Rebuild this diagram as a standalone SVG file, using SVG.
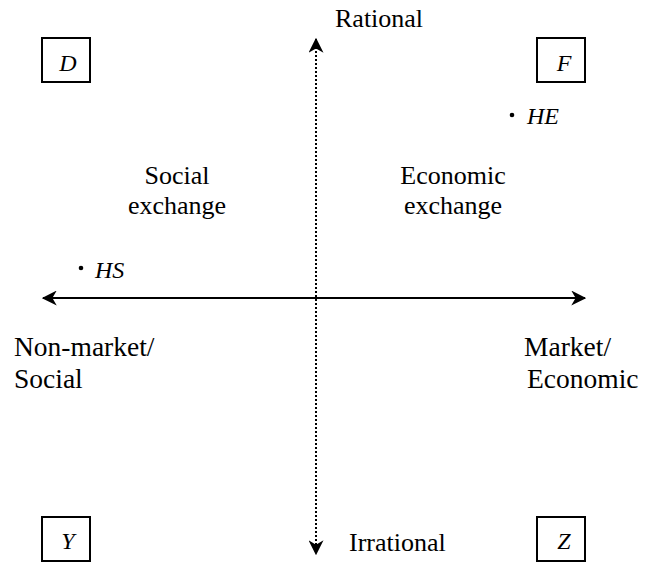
<svg xmlns="http://www.w3.org/2000/svg" width="652" height="563" viewBox="0 0 652 563">
  <style>
    text { font-family: 'Liberation Serif', 'DejaVu Serif', serif; fill: #000; }
    .lbl { font-size: 26px; }
    .side { font-size: 27.5px; }
    .var { font-size: 24px; font-style: italic; }
    .box { fill: #fff; stroke: #000; stroke-width: 2; }
    .axis { stroke: #000; stroke-width: 2; fill: none; }
    .dotted { stroke: #000; stroke-width: 2; stroke-dasharray: 2 2; fill: none; }
  </style>
  <defs>
    <marker id="head" viewBox="0 0 12 12" refX="11" refY="6" markerWidth="7.5" markerHeight="7.5" markerUnits="strokeWidth" orient="auto-start-reverse">
      <path d="M0,0 L12,6 L0,12 L3.5,6 Z" fill="#000"/>
    </marker>
  </defs>

  <!-- axes -->
  <g id="connectors">
    <line class="axis" x1="43" y1="298" x2="585" y2="298" marker-start="url(#head)" marker-end="url(#head)"/>
    <line class="dotted" x1="316" y1="39" x2="316" y2="554" marker-start="url(#head)" marker-end="url(#head)"/>
  </g>

  <!-- axis pole labels -->
  <g id="rational"><text class="lbl" x="335" y="27">Rational</text></g>
  <g id="irrational"><text class="lbl" x="349" y="551">Irrational</text></g>
  <g id="nonmarket">
    <text class="side" x="14" y="356">Non-market/</text>
    <text class="side" x="14" y="388">Social</text>
  </g>
  <g id="market">
    <text class="side" x="524" y="356">Market/</text>
    <text class="side" x="527" y="388">Economic</text>
  </g>

  <!-- quadrant labels -->
  <g id="social-exchange">
    <text class="lbl" x="177" y="184" text-anchor="middle">Social</text>
    <text class="lbl" x="177" y="214" text-anchor="middle">exchange</text>
  </g>
  <g id="economic-exchange">
    <text class="lbl" x="453" y="184" text-anchor="middle">Economic</text>
    <text class="lbl" x="453" y="214" text-anchor="middle">exchange</text>
  </g>

  <!-- corner boxes -->
  <g id="D"><rect class="box" x="42" y="38" width="48" height="44"/><text class="var" x="68" y="71" text-anchor="middle">D</text></g>
  <g id="F"><rect class="box" x="537" y="38" width="48" height="44"/><text class="var" x="564" y="71" text-anchor="middle">F</text></g>
  <g id="Y"><rect class="box" x="42" y="517" width="48" height="44"/><text class="var" x="68" y="549" text-anchor="middle">Y</text></g>
  <g id="Z"><rect class="box" x="537" y="517" width="48" height="44"/><text class="var" x="564" y="549" text-anchor="middle">Z</text></g>

  <!-- points -->
  <g id="HE"><circle cx="512" cy="115" r="2.3" fill="#000"/><text class="var" x="527" y="124">HE</text></g>
  <g id="HS"><circle cx="81" cy="268" r="2.3" fill="#000"/><text class="var" x="95" y="278">HS</text></g>
</svg>
